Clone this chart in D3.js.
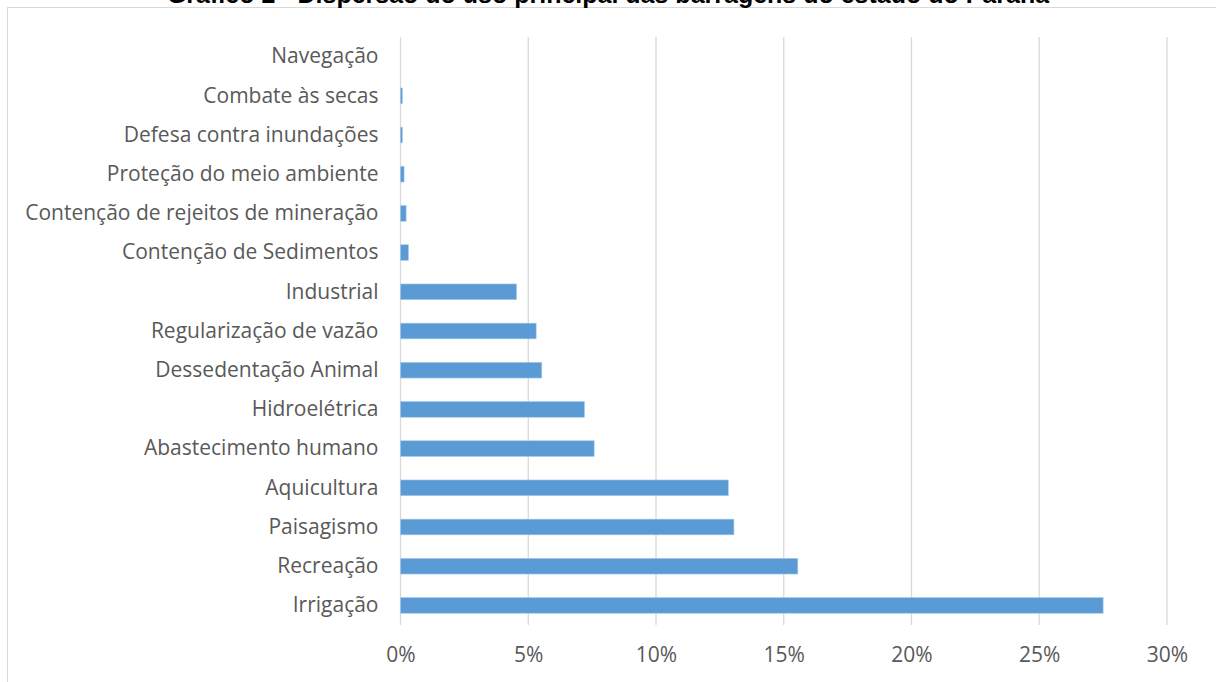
<!DOCTYPE html>
<html><head><meta charset="utf-8">
<script src="https://cdn.jsdelivr.net/npm/d3@7"></script>
<style>html,body{margin:0;padding:0;background:#fff;overflow:hidden}</style>
</head><body>
<svg id="c" width="1216" height="682"></svg>
<script>
const categories = ["Navegação","Combate às secas","Defesa contra inundações","Proteção do meio ambiente","Contenção de rejeitos de mineração","Contenção de Sedimentos","Industrial","Regularização de vazão","Dessedentação Animal","Hidroelétrica","Abastecimento humano","Aquicultura","Paisagismo","Recreação","Irrigação"];
const values = [0, 0.0007, 0.0007, 0.0014, 0.0022, 0.0031, 0.0454, 0.0531, 0.0553, 0.0720, 0.0758, 0.1283, 0.1305, 0.1555, 0.2750];
const tickValues = [0, 0.05, 0.10, 0.15, 0.20, 0.25, 0.30];
const title = "Gráfico 2 - Dispersão do uso principal das barragens do estado do Paraná";

const svg = d3.select("#c");
const W = 1216, H = 682;
const m = {left: 400.5, right: 1167, top: 37, bottom: 625};

svg.append("rect").attr("x",7.5).attr("y",7.5).attr("width",W).attr("height",H)
  .attr("fill","#fff").attr("stroke","#d9d9d9").attr("stroke-width",1);

svg.append("text").attr("x",W/2).attr("y",3).attr("text-anchor","middle")
  .attr("font-family","Liberation Sans, Arial, sans-serif").attr("font-weight","bold")
  .attr("font-size",25).attr("fill","#000").text(title);

const x = d3.scaleLinear().domain([0,0.30]).range([m.left, m.right]);
const y = d3.scaleBand().domain(categories).range([m.top, m.bottom]).paddingInner(0.6).paddingOuter(0.3);

// gridlines
svg.append("g").selectAll("line").data(tickValues).join("line")
  .attr("x1",d=>x(d)).attr("x2",d=>x(d)).attr("y1",m.top).attr("y2",m.bottom)
  .attr("stroke","#d9d9d9").attr("stroke-width",1.3);

// bars
svg.append("g").selectAll("rect").data(categories).join("rect")
  .attr("x",x(0)).attr("y",d=>y(d))
  .attr("width",(d,i)=>x(values[i])-x(0)).attr("height",y.bandwidth())
  .attr("fill","#5b9bd5").attr("stroke","#a9c9ea").attr("stroke-width",0.6);

// y axis labels
const ya = d3.axisLeft(y).tickSize(0).tickPadding(22);
const gy = svg.append("g").attr("transform",`translate(${m.left},0)`).call(ya);
gy.select(".domain").remove();
gy.selectAll("text").attr("font-family","Open Sans, sans-serif").attr("font-size",21).attr("fill","#595959");

// x axis labels
const xa = d3.axisBottom(x).tickValues(tickValues).tickSize(0).tickPadding(22).tickFormat(d3.format(".0%"));
const gx = svg.append("g").attr("transform",`translate(0,${m.bottom})`).call(xa);
gx.select(".domain").remove();
gx.selectAll("text").attr("font-family","Open Sans, sans-serif").attr("font-size",21).attr("fill","#595959");
</script>
</body></html>
